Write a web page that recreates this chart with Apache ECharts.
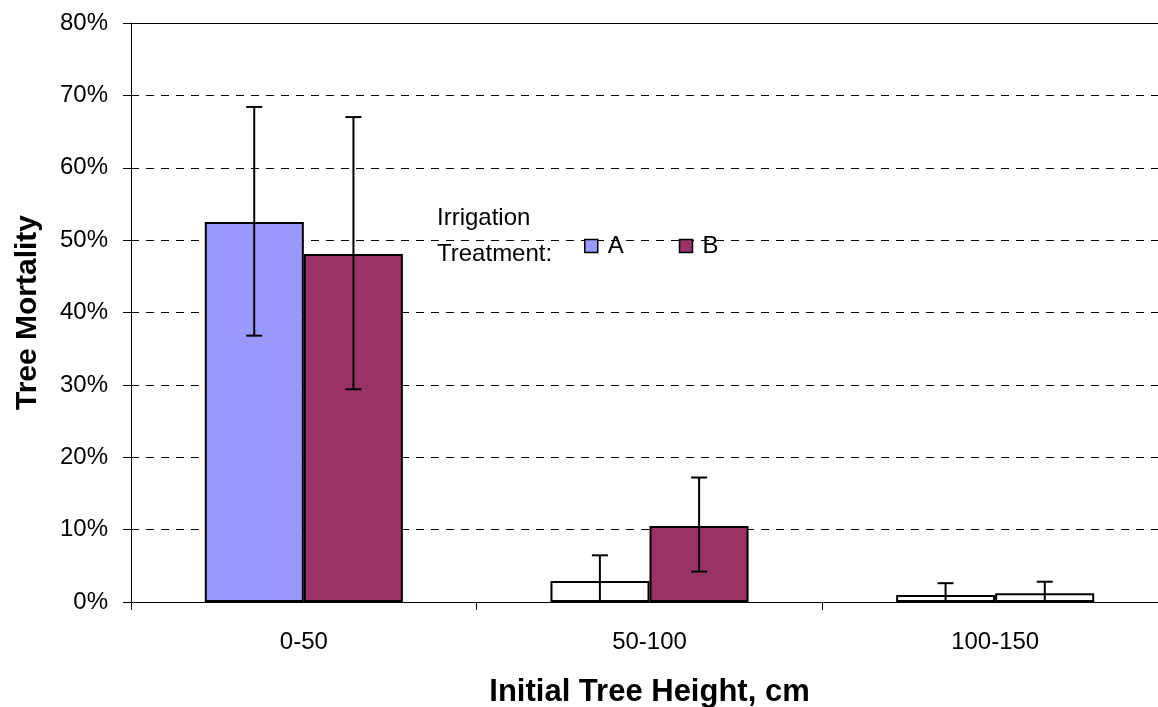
<!DOCTYPE html>
<html><head><meta charset="utf-8">
<script src="https://cdn.jsdelivr.net/npm/echarts@6/dist/echarts.min.js"></script>
<style>html,body{margin:0;padding:0;background:#fff}#c{width:1158px;height:707px}</style>
</head><body><div id="c"></div>
<script>
const categories = ['0-50', '50-100', '100-150'];
const seriesNames = ['A', 'B'];
const valuesA = [0.525, 0.029, 0.0097];
const valuesB = [0.481, 0.105, 0.012];
const errLowA = [0.368, 0, 0];
const errHighA = [0.684, 0.0645, 0.026];
const errLowB = [0.294, 0.042, 0];
const errHighB = [0.670, 0.172, 0.028];
const yTickValues = [0, 0.1, 0.2, 0.3, 0.4, 0.5, 0.6, 0.7, 0.8];
const legendTitle = 'Irrigation\nTreatment:';
const xTitle = 'Initial Tree Height, cm';
const yTitle = 'Tree Mortality';

const fillA = ['#9999FF', '#FFFFFF', '#FFFFFF'];
const fillB = ['#993366', '#993366', '#FFFFFF'];
const FONT = 'Liberation Sans, Arial, sans-serif';

const chart = echarts.init(document.getElementById('c'), null, {renderer: 'canvas'});

function errSeries(low, high, side) {
  return {
    type: 'custom',
    z: 10,
    data: categories.map((c, i) => [i, low[i], high[i]]),
    renderItem: function (params, api) {
      const i = api.value(0);
      const band = api.size([1, 0])[0];
      const off = side * band * 0.1435;
      const pHigh = api.coord([i, api.value(2)]);
      const pLow = api.coord([i, api.value(1)]);
      const x = pHigh[0] + off;
      const cap = 8;
      const st = {stroke: '#000', lineWidth: 2};
      const children = [
        {type: 'line', shape: {x1: x, y1: pHigh[1], x2: x, y2: pLow[1]}, style: st},
        {type: 'line', shape: {x1: x - cap, y1: pHigh[1], x2: x + cap, y2: pHigh[1]}, style: st}
      ];
      if (api.value(1) > 0) {
        children.push({type: 'line', shape: {x1: x - cap, y1: pLow[1], x2: x + cap, y2: pLow[1]}, style: st});
      }
      return {type: 'group', children: children};
    }
  };
}

const option = {
  backgroundColor: '#fff',
  animation: false,
  textStyle: {fontFamily: FONT, color: '#000'},
  grid: {left: 131, width: 1037, top: 23, height: 579, outerBoundsMode: 'none', containLabel: false},
  legend: {
    data: seriesNames,
    left: 579, top: 229,
    icon: 'rect', itemWidth: 13, itemHeight: 13, itemGap: 55,
    itemStyle: {borderColor: '#000', borderWidth: 1.5},
    textStyle: {fontSize: 24, color: '#000', fontFamily: FONT, padding: [0, 0, 0, 5]}
  },
  graphic: [{
    type: 'text', left: 437, top: 200,
    style: {text: legendTitle, font: '24px ' + FONT, fill: '#000', lineHeight: 36}
  }],
  xAxis: {
    type: 'category',
    data: categories,
    name: xTitle,
    nameLocation: 'middle',
    nameGap: 75,
    nameTextStyle: {fontSize: 31, fontWeight: 'bold', color: '#000', fontFamily: FONT},
    axisLine: {lineStyle: {color: '#000', width: 1}},
    axisTick: {show: true, alignWithLabel: false, length: 8, lineStyle: {color: '#000'}},
    axisLabel: {fontSize: 24, color: '#000', margin: 28, fontFamily: FONT},
    splitLine: {show: false}
  },
  yAxis: {
    type: 'value',
    min: 0, max: 0.8, interval: 0.1,
    name: yTitle,
    nameLocation: 'middle',
    nameGap: 88,
    nameTextStyle: {fontSize: 30, fontWeight: 'bold', color: '#000', fontFamily: FONT},
    axisLine: {show: true, lineStyle: {color: '#000', width: 1}},
    axisTick: {show: true, length: 8, lineStyle: {color: '#000'}},
    axisLabel: {
      fontSize: 24, color: '#000', margin: 23, fontFamily: FONT,
      formatter: v => Math.round(v * 100) + '%'
    },
    splitLine: {show: true, lineStyle: {color: '#000', type: [8, 7], width: 1}}
  },
  series: [
    {
      name: seriesNames[0], type: 'bar',
      barGap: '0%', barCategoryGap: '42.7%',
      itemStyle: {color: fillA[0], borderColor: '#000', borderWidth: 2},
      data: valuesA.map((v, i) => ({value: v, itemStyle: {color: fillA[i]}})),
      markLine: {
        silent: true, symbol: 'none', label: {show: false},
        lineStyle: {color: '#000', type: 'solid', width: 1},
        data: [{yAxis: yTickValues[yTickValues.length - 1]}]
      }
    },
    {
      name: seriesNames[1], type: 'bar',
      barGap: '0%', barCategoryGap: '42.7%',
      itemStyle: {color: fillB[0], borderColor: '#000', borderWidth: 2},
      data: valuesB.map((v, i) => ({value: v, itemStyle: {color: fillB[i]}}))
    },
    errSeries(errLowA, errHighA, -1),
    errSeries(errLowB, errHighB, 1)
  ]
};
chart.setOption(option);
</script></body></html>
